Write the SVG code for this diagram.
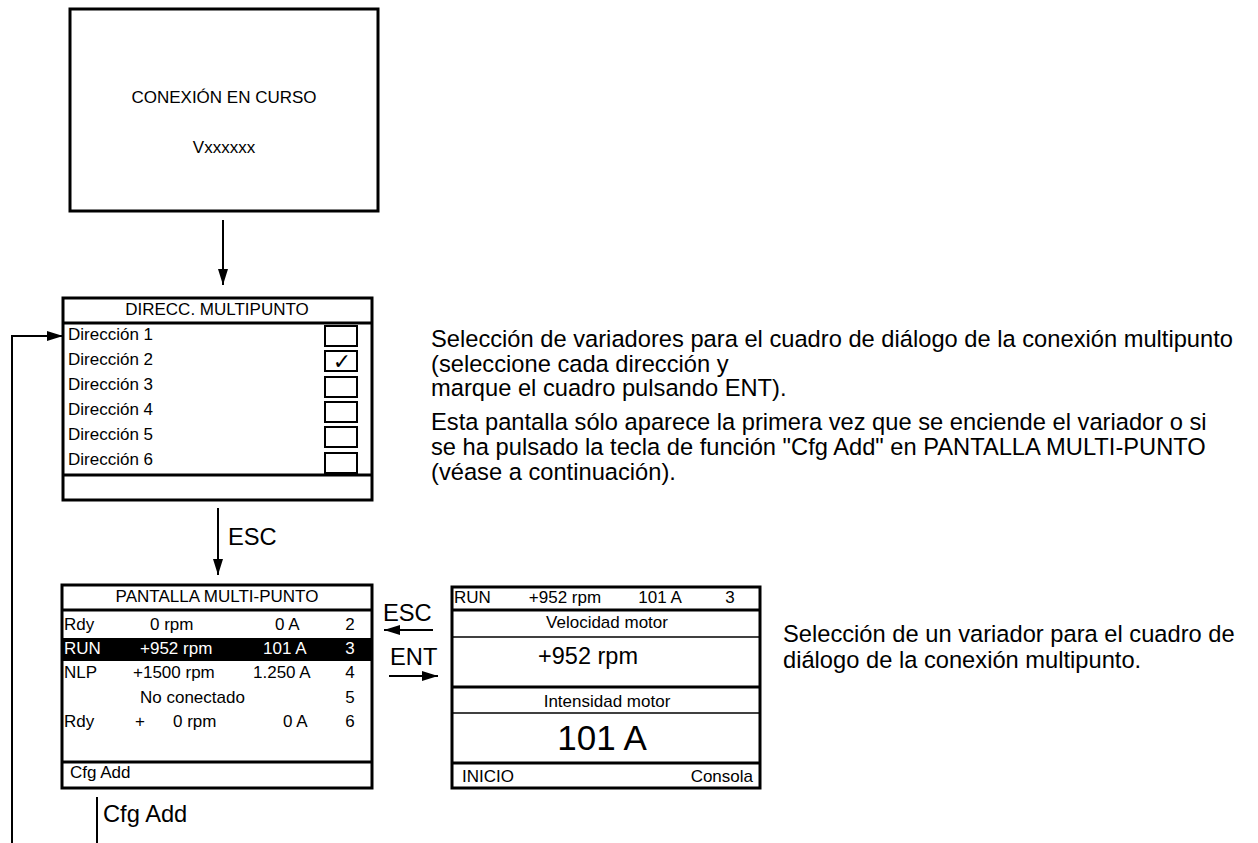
<svg xmlns="http://www.w3.org/2000/svg" width="1258" height="843" viewBox="0 0 1258 843">
<style>
.frame{fill:#fff;stroke:#000;stroke-width:3}
.div{stroke:#000;stroke-width:3}
.thin{stroke:#000;stroke-width:1.5}
.chk{fill:#fff;stroke:#000;stroke-width:2}
.conn{fill:none;stroke:#000;stroke-width:2}
.s{font-family:"Liberation Sans",Arial,sans-serif;font-size:17px;fill:#000}
.w{fill:#fff}
.m{text-anchor:middle}
.e{text-anchor:end}
.d{font-family:"Liberation Sans",Arial,sans-serif;font-size:23.7px;fill:#000}
</style>
<defs>
<marker id="ah" markerWidth="16" markerHeight="10" refX="16" refY="5" orient="auto" markerUnits="userSpaceOnUse">
<polygon points="0,0 16,5 0,10" fill="#000"/>
</marker>
</defs>
<rect width="1258" height="843" fill="#fff"/>

<g id="connectors">
<line class="conn" x1="223" y1="220" x2="223" y2="285" marker-end="url(#ah)"/>
<line class="conn" x1="218" y1="508" x2="218" y2="575" marker-end="url(#ah)"/>
<line class="conn" x1="433" y1="630" x2="384" y2="630" marker-end="url(#ah)"/>
<line class="conn" x1="389" y1="676" x2="438" y2="676" marker-end="url(#ah)"/>
<polyline class="conn" points="12,843 12,336 63,336" marker-end="url(#ah)"/>
<line class="conn" x1="97" y1="797" x2="97" y2="843"/>
<text class="d" x="228" y="545">ESC</text>
<text class="d" x="383" y="621">ESC</text>
<text class="d" x="390" y="665">ENT</text>
<text class="d" x="103" y="822">Cfg Add</text>
</g>

<g id="node-conexion">
<rect class="frame" x="70" y="9" width="308" height="202"/>
<text class="s m" x="224" y="103">CONEXIÓN EN CURSO</text>
<text class="s m" x="224" y="153">Vxxxxxx</text>
</g>

<g id="node-direcc">
<rect class="frame" x="63" y="298" width="309" height="202"/>
<line class="div" x1="63" y1="323" x2="372" y2="323"/>
<line class="div" x1="63" y1="475" x2="372" y2="475"/>
<text class="s m" x="217" y="315">DIRECC. MULTIPUNTO</text>
<text class="s" x="68" y="340">Dirección 1</text>
<text class="s" x="68" y="365">Dirección 2</text>
<text class="s" x="68" y="390">Dirección 3</text>
<text class="s" x="68" y="415">Dirección 4</text>
<text class="s" x="68" y="440">Dirección 5</text>
<text class="s" x="68" y="465">Dirección 6</text>
<rect class="chk" x="325" y="326" width="32" height="20"/>
<rect class="chk" x="325" y="351" width="32" height="20"/>
<rect class="chk" x="325" y="377" width="32" height="20"/>
<rect class="chk" x="325" y="402" width="32" height="20"/>
<rect class="chk" x="325" y="427" width="32" height="20"/>
<rect class="chk" x="325" y="453" width="32" height="20"/>
<text x="342" y="369" text-anchor="middle" font-family="DejaVu Sans, sans-serif" font-size="22">✓</text>
</g>

<g id="node-pantalla">
<rect class="frame" x="62" y="585" width="310" height="203"/>
<line class="div" x1="62" y1="610" x2="372" y2="610"/>
<line class="div" x1="62" y1="762" x2="372" y2="762"/>
<rect x="62" y="638" width="310" height="23" fill="#000"/>
<text class="s m" x="217" y="602">PANTALLA MULTI-PUNTO</text>
<text class="s" x="64" y="630">Rdy</text>
<text class="s" x="150" y="630">0 rpm</text>
<text class="s" x="275" y="630">0 A</text>
<text class="s m" x="350" y="630">2</text>
<text class="s w" x="64" y="654">RUN</text>
<text class="s w" x="140" y="654">+952 rpm</text>
<text class="s w" x="263" y="654">101 A</text>
<text class="s m w" x="350" y="654">3</text>
<text class="s" x="64" y="678">NLP</text>
<text class="s" x="133" y="678">+1500 rpm</text>
<text class="s" x="253" y="678">1.250 A</text>
<text class="s m" x="350" y="678">4</text>
<text class="s" x="140" y="703">No conectado</text>
<text class="s m" x="350" y="703">5</text>
<text class="s" x="64" y="727">Rdy</text>
<text class="s" x="135" y="727">+</text>
<text class="s" x="173" y="727">0 rpm</text>
<text class="s" x="283" y="727">0 A</text>
<text class="s m" x="350" y="727">6</text>
<text class="s" x="70" y="778">Cfg Add</text>
</g>

<g id="node-detalle">
<rect class="frame" x="452" y="587" width="308" height="201"/>
<line class="div" x1="452" y1="610" x2="760" y2="610"/>
<line class="thin" x1="452" y1="637" x2="760" y2="637"/>
<line class="div" x1="452" y1="687" x2="760" y2="687"/>
<line class="thin" x1="452" y1="713" x2="760" y2="713"/>
<line class="div" x1="452" y1="763" x2="760" y2="763"/>
<text class="s" x="454" y="603">RUN</text>
<text class="s m" x="565" y="603">+952 rpm</text>
<text class="s m" x="660" y="603">101 A</text>
<text class="s m" x="730" y="603">3</text>
<text class="s m" x="607" y="628">Velocidad motor</text>
<text class="s m" x="588" y="664" style="font-size:23.5px">+952 rpm</text>
<text class="s m" x="607" y="707">Intensidad motor</text>
<text class="s m" x="602" y="750" style="font-size:35px">101 A</text>
<text class="s" x="462" y="782">INICIO</text>
<text class="s e" x="753" y="782">Consola</text>
</g>

<g id="desc-1">
<text class="d" x="431" y="347">Selección de variadores para el cuadro de diálogo de la conexión multipunto</text>
<text class="d" x="431" y="372">(seleccione cada dirección y</text>
<text class="d" x="431" y="396">marque el cuadro pulsando ENT).</text>
<text class="d" x="431" y="430">Esta pantalla sólo aparece la primera vez que se enciende el variador o si</text>
<text class="d" x="431" y="455">se ha pulsado la tecla de función "Cfg Add" en PANTALLA MULTI-PUNTO</text>
<text class="d" x="431" y="480">(véase a continuación).</text>
</g>

<g id="desc-2">
<text class="d" x="783" y="642">Selección de un variador para el cuadro de</text>
<text class="d" x="783" y="668">diálogo de la conexión multipunto.</text>
</g>
</svg>
